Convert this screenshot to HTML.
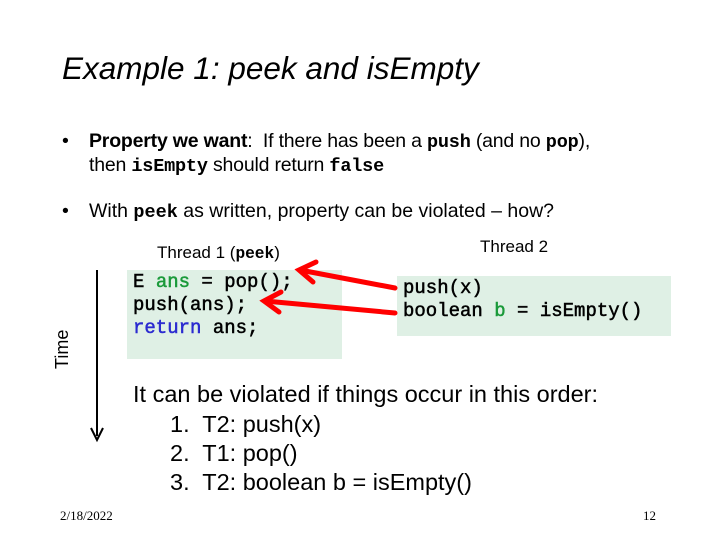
<!DOCTYPE html>
<html><head><style>
body{margin:0;width:720px;height:540px;background:#fff;position:relative;overflow:hidden;font-family:"Liberation Sans",sans-serif;color:#000}
.a{position:absolute;white-space:nowrap}
.m{font-family:"Liberation Mono",monospace;font-weight:bold;font-size:0.95em}
.box{position:absolute;background:#dff0e5}
.code{font-family:"Liberation Mono",monospace;font-size:19px;line-height:23px;-webkit-text-stroke:0.5px #000}
.g{color:#1a9a3a;-webkit-text-stroke:0.5px #1a9a3a}.b{color:#2b2bd0;-webkit-text-stroke:0.5px #2b2bd0}
</style></head><body>
<div class="a" style="left:62px;top:50px;font-size:31.5px;font-style:italic">Example 1: peek and isEmpty</div>
<div class="a" style="left:62px;top:130px;font-size:19.5px">•</div>
<div class="a" style="left:89px;top:130px;font-size:19.5px;letter-spacing:-0.2px"><b>Property we want</b>:&nbsp; If there has been a <span class="m">push</span> (and no <span class="m">pop</span>),</div>
<div class="a" style="left:89px;top:154px;font-size:19.5px;letter-spacing:-0.2px">then <span class="m">isEmpty</span> should return <span class="m">false</span></div>
<div class="a" style="left:62px;top:200px;font-size:19.5px">•</div>
<div class="a" style="left:89px;top:200px;font-size:19.5px">With <span class="m">peek</span> as written, property can be violated – how?</div>
<div class="a" style="left:157px;top:243px;font-size:17px">Thread 1 (<span class="m">peek</span>)</div>
<div class="a" style="left:480px;top:237px;font-size:17px">Thread 2</div>
<div class="box" style="left:127px;top:270px;width:215px;height:89px"></div>
<div class="box" style="left:397px;top:276px;width:274px;height:60px"></div>
<div class="a code" style="left:133px;top:271px">E <span class="g">ans</span> = pop();<br>push(ans);<br><span class="b">return</span> ans;</div>
<div class="a code" style="left:403px;top:277px">push(x)<br>boolean <span class="g">b</span> = isEmpty()</div>
<svg class="a" style="left:0;top:0" width="720" height="540">
<g stroke="#f00" stroke-width="5" fill="none" stroke-linecap="round">
<line x1="395" y1="288" x2="300" y2="270"/>
<polyline points="316,262 299,270 313,282"/>
<line x1="395" y1="313" x2="265" y2="301"/>
<polyline points="281,292 264,301 279,312"/>
</g>
<line x1="97" y1="270" x2="97" y2="436" stroke="#000" stroke-width="2"/>
<polyline points="91,428 97,440 103,428" stroke="#000" stroke-width="2" fill="none"/>
</svg>
<div class="a" style="left:52px;top:369px;font-size:18px;transform:rotate(-90deg);transform-origin:0 0">Time</div>
<div class="a" style="left:133px;top:381px;font-size:23.5px">It can be violated if things occur in this order:</div>
<div class="a" style="left:170px;top:410px;font-size:23.5px;line-height:29px">1.&nbsp; T2: push(x)<br>2.&nbsp; T1: pop()<br>3.&nbsp; T2: boolean b = isEmpty()</div>
<div class="a" style="left:60px;top:508px;font-size:13px;font-family:'Liberation Serif',serif">2/18/2022</div>
<div class="a" style="left:643px;top:508px;font-size:13px;font-family:'Liberation Serif',serif">12</div>
</body></html>
